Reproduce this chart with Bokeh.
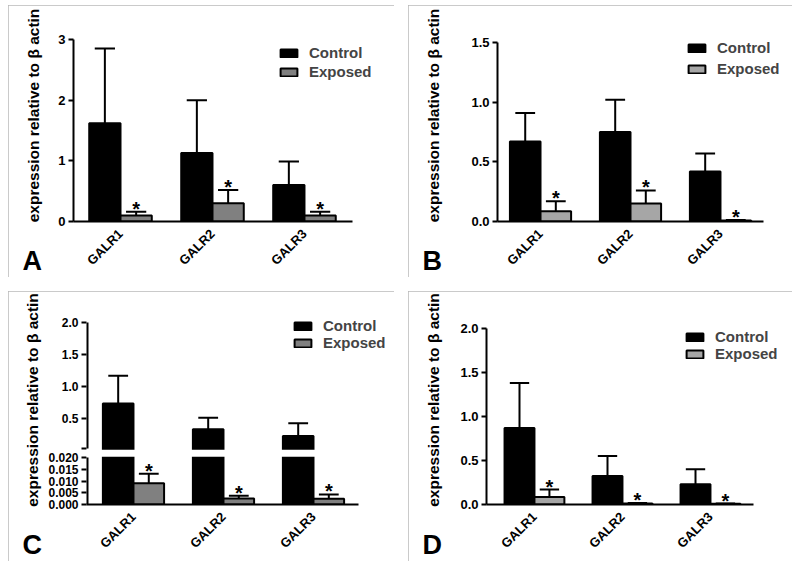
import numpy as np
from bokeh.plotting import figure
from bokeh.models import (ColumnDataSource, Range1d, FixedTicker, Legend, LegendItem, Title,
                          BoxAnnotation, CustomJSTransform, LinearAxis, PrintfTickFormatter)
from bokeh.transform import dodge, transform
from bokeh.layouts import row, column
from bokeh.embed import file_html
from bokeh.resources import INLINE
from bokeh.core.properties import value

# ---------------- data ----------------
genes = ["GALR1", "GALR2", "GALR3"]
groups = ["Control", "Exposed"]
y_title = "expression relative to \u03b2 actin"
stars = ["*", "*", "*"]

a_control = [1.62, 1.13, 0.60]
a_control_err = [1.23, 0.87, 0.39]
a_exposed = [0.10, 0.30, 0.10]
a_exposed_err = [0.06, 0.22, 0.06]
a_ticks = [0, 1, 2, 3]

b_control = [0.67, 0.75, 0.42]
b_control_err = [0.24, 0.27, 0.15]
b_exposed = [0.085, 0.15, 0.008]
b_exposed_err = [0.085, 0.11, 0.004]
b_ticks = [0.0, 0.5, 1.0, 1.5]

c_control = [0.73, 0.325, 0.22]
c_control_err = [0.435, 0.18, 0.20]
c_exposed = [0.0091, 0.0026, 0.0025]
c_exposed_err = [0.0041, 0.0011, 0.0018]
c_ticks_low = [0.000, 0.005, 0.010, 0.015, 0.020]
c_ticks_high = [0.5, 1.0, 1.5, 2.0]

d_control = [0.87, 0.325, 0.23]
d_control_err = [0.51, 0.225, 0.17]
d_exposed = [0.086, 0.012, 0.008]
d_exposed_err = [0.084, 0.004, 0.003]
d_ticks = [0.0, 0.5, 1.0, 1.5, 2.0]

FONT = "Liberation Sans"
BAR_W = 0.34
OFF = 0.17
CAP = 0.11
PAD = 4  # frame reaches to within PAD px of the panel box (top / right)


def make_panel(letter, ctrl, ctrl_err, expo, expo_err, exp_color, y_end, y_ticks,
               W, H, ax_left, ax_right, ax_top, ax_bottom, x_start, x_end,
               legend_xy, legend_gap, title_gap, letter_off, letter_drop,
               ytf=None, y_fmt=None, tick_size="13px"):
    ux = (ax_right - ax_left) / (x_end - x_start)
    uy = (ax_bottom - ax_top) / y_end
    fx_end = x_start + (W - PAD - ax_left) / ux
    fy_end = (ax_bottom - PAD) / uy
    src = ColumnDataSource(dict(
        pos=list(range(len(genes))), gene=genes, star=stars,
        ctrl=ctrl, ctrl_hi=[m + e for m, e in zip(ctrl, ctrl_err)],
        expo=expo, expo_hi=[m + e for m, e in zip(expo, expo_err)],
    ))
    p = figure(width=W, height=H, min_border_left=ax_left, min_border_right=PAD,
               min_border_top=PAD, min_border_bottom=H - ax_bottom,
               x_range=Range1d(x_start, fx_end), y_range=Range1d(0, fy_end),
               output_backend="svg", toolbar_location=None)
    p.grid.visible = False
    p.outline_line_color = None
    p.background_fill_color = "white"
    p.border_fill_color = "white"
    p.styles = {"outline": "1px solid #b8b8b8", "outline-offset": "-1px"}

    # panel letter (zero-height title between frame and x axis, drawn downward)
    p.below.insert(0, Title(text=letter, align="left", offset=letter_off, standoff=letter_drop,
                            text_font=FONT, text_font_style="bold", text_font_size="27px",
                            text_color="black"))

    def Y(col):
        return transform(col, ytf) if ytf is not None else col

    rc = p.vbar(x=dodge("pos", -OFF, range=p.x_range), top=Y("ctrl"), bottom=0, width=BAR_W,
                fill_color="black", line_color="black", line_width=2, source=src)
    re = p.vbar(x=dodge("pos", OFF, range=p.x_range), top=Y("expo"), bottom=0, width=BAR_W,
                fill_color=exp_color, line_color="black", line_width=2, source=src)
    for off, lo, hi in ((-OFF, "ctrl", "ctrl_hi"), (OFF, "expo", "expo_hi")):
        p.segment(x0=dodge("pos", off, range=p.x_range), x1=dodge("pos", off, range=p.x_range),
                  y0=Y(lo), y1=Y(hi), line_color="black", line_width=2, source=src)
        p.segment(x0=dodge("pos", off - CAP, range=p.x_range), x1=dodge("pos", off + CAP, range=p.x_range),
                  y0=Y(hi), y1=Y(hi), line_color="black", line_width=2, source=src)
    p.text(x=dodge("pos", OFF, range=p.x_range), y=Y("expo_hi"), text="star", source=src,
           text_font=value(FONT), text_font_style="bold", text_font_size="20px",
           text_align="center", text_baseline="alphabetic", y_offset=-3, text_color="black")

    # x axis
    xa = p.xaxis[0]
    xa.ticker = FixedTicker(ticks=list(range(len(genes))))
    xa.major_label_overrides = {i: g for i, g in enumerate(genes)}
    xa.major_label_orientation = np.pi / 4
    xa.major_tick_line_color = None
    xa.minor_tick_line_color = None
    xa.major_label_standoff = 4
    xa.major_label_text_font_size = "13px"
    xa.bounds = (x_start, x_end)

    # y axis
    ya = p.yaxis[0]
    ya.ticker = FixedTicker(ticks=y_ticks)
    ya.bounds = (0, y_end)
    if y_fmt is not None:
        ya.formatter = y_fmt
    ya.major_tick_out = 5
    ya.major_tick_in = 0
    ya.major_tick_line_width = 2
    ya.minor_tick_line_color = None
    ya.major_label_standoff = 3
    ya.major_label_text_font_size = tick_size
    ya.axis_label = y_title
    ya.axis_label_standoff = title_gap
    ya.axis_label_text_font = FONT
    ya.axis_label_text_font_style = "bold"
    ya.axis_label_text_font_size = "15.5px"
    ya.axis_label_text_color = "black"
    for ax in (xa, ya):
        ax.axis_line_width = 2
        ax.axis_line_color = "black"
        ax.major_label_text_font = FONT
        ax.major_label_text_font_style = "bold"
        ax.major_label_text_color = "black"

    leg = Legend(items=[LegendItem(label=groups[0], renderers=[rc]),
                        LegendItem(label=groups[1], renderers=[re])],
                 location=legend_xy, orientation="vertical", padding=0, margin=0,
                 spacing=legend_gap, glyph_width=21, glyph_height=10, label_height=17,
                 label_standoff=10, label_text_font=FONT, label_text_font_size="15px",
                 label_text_font_style="bold", border_line_color=None, background_fill_alpha=0)
    p.add_layout(leg)
    return p


fmt1 = PrintfTickFormatter(format="%.1f")
pA = make_panel("A", a_control, a_control_err, a_exposed, a_exposed_err, "#808080", 3, a_ticks,
                386, 272, 65, 344, 34, 216, -0.511, 2.522, (205, 141), 2, 13, -51, -108)
pB = make_panel("B", b_control, b_control_err, b_exposed, b_exposed_err, "#a6a6a6", 1.5, b_ticks,
                384, 272, 89, 355, 37, 216, -0.478, 2.478, (189, 144), 4, 26, -75, -108, y_fmt=fmt1)
pD = make_panel("D", d_control, d_control_err, d_exposed, d_exposed_err, "#a6a6a6", 2.0, d_ticks,
                384, 270, 78, 345, 37, 213, -0.545, 2.489, (198, 142), 0, 15, -64, -110, y_fmt=fmt1)

# ---- panel C: broken y axis (0-0.02 below, 0.02-2.0 above) ----
brk = dict(lo=0.02, hi=2.0, a=47.0, g=9.0, b=127.0)
brk_tf = CustomJSTransform(args=brk,
    func="return x <= lo ? x / lo * a : a + g + (x - lo) / (hi - lo) * b",
    v_func="const out = new Float64Array(xs.length);"
           "for (let i = 0; i < xs.length; i++) { const v = xs[i];"
           " out[i] = v <= lo ? v / lo * a : a + g + (v - lo) / (hi - lo) * b; }"
           "return out;")


def brk_pos(v):
    return v / brk["lo"] * brk["a"] if v <= brk["lo"] else \
        brk["a"] + brk["g"] + (v - brk["lo"]) / (brk["hi"] - brk["lo"]) * brk["b"]


c_span = brk["a"] + brk["g"] + brk["b"]
c_x_start = -0.522
low_pos = [brk_pos(v) for v in c_ticks_low]
high_pos = [brk["a"] + brk["g"]] + [brk_pos(v) for v in c_ticks_high]
pC = make_panel("C", c_control, c_control_err, c_exposed, c_exposed_err, "#808080",
                c_span, low_pos + high_pos,
                386, 270, 78, 350, 31, 213, c_x_start, 2.5, (206, 153), 0, 4, -64, -110,
                ytf=brk_tf, tick_size="12px")
c_ax = pC.yaxis[0]
c_ax.major_label_overrides = dict(zip(low_pos + high_pos,
                                      [f"{v:.3f}" for v in c_ticks_low] + [""] +
                                      [f"{v:.1f}" for v in c_ticks_high]))
c_ax.axis_line_color = None
# the two pieces of the broken axis line
for lo_b, hi_b in ((0, brk["a"]), (brk["a"] + brk["g"], c_span)):
    seg = LinearAxis(ticker=FixedTicker(ticks=[]), fixed_location=c_x_start, bounds=(lo_b, hi_b),
                     axis_line_width=4, axis_line_color="black", major_tick_line_color=None,
                     minor_tick_line_color=None, major_label_text_font_size="0px")
    pC.add_layout(seg, "left")
pC.add_layout(BoxAnnotation(bottom=brk["a"] + 1, top=brk["a"] + brk["g"] - 1, left=-0.7, right=2.6,
                            fill_color="white", fill_alpha=1, line_color=None, level="overlay"))

layout = column(row(pA, pB, spacing=14), row(pC, pD, spacing=14), spacing=14, margin=(5, 0, 0, 8))
open("out.html", "w").write(file_html(layout, INLINE))
